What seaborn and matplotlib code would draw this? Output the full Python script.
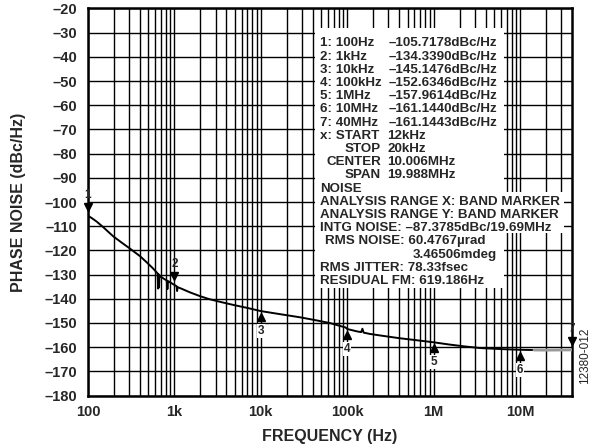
import matplotlib
matplotlib.use("Agg")
import matplotlib.pyplot as plt
import matplotlib.transforms as mtransforms
from matplotlib.patches import Rectangle
from matplotlib.ticker import FixedLocator, NullFormatter
import pandas as pd
import seaborn as sns

# Phase-noise trace (offset frequency in Hz, level in dBc/Hz)
freq_hz = [100, 110, 126, 150, 180, 196, 250, 307, 400, 480, 560, 627,
           640, 648, 656, 664, 672, 700, 760, 815, 830, 845, 900, 1000,
           1060, 1075, 1090, 1200, 1500, 1970, 2500, 3400, 4870, 7000,
           10000, 16900, 28800, 45000, 64000, 96000, 100000, 130000,
           145000, 150000, 155000, 180000, 243000, 400000, 586000,
           1000000, 1500000, 2270000, 3500000, 6000000, 10000000, 14500000]
noise_dbc = [-105.7, -106.6, -108.1, -110.4, -113.0, -114.2, -117.0, -119.3,
             -122.4, -125.0, -127.3, -129.2,
             -129.6, -135.8, -129.9, -135.3, -130.3, -130.9, -131.8, -132.4,
             -136.0, -132.7, -133.3, -134.3,
             -134.8, -136.8, -135.2, -135.8, -137.3, -138.9, -140.1, -141.3,
             -142.6, -143.8,
             -145.1, -146.4, -147.7, -149.0, -150.1, -151.9, -152.5, -153.5,
             -153.8, -152.4, -154.0, -154.5, -155.2, -156.3, -157.0,
             -158.0, -158.9, -159.7, -160.4, -160.8, -161.1, -161.2]

# Tail of the sweep beyond the integration band
tail_freq_hz = [14500000, 20000000, 30000000, 40000000]
tail_dbc = [-161.2, -161.25, -161.2, -161.14]

# Markers
marker_ids = ["1", "2", "3", "4", "5", "6", "7"]
marker_freq_hz = [100, 1e3, 1e4, 1e5, 1e6, 1e7, 4e7]
marker_freq_text = ["100Hz", "1kHz", "10kHz", "100kHz", "1MHz", "10MHz", "40MHz"]
marker_dbc = [-105.7178, -134.3390, -145.1476, -152.6346, -157.9614,
              -161.1440, -161.1443]
marker_points_down = [True, True, False, False, False, False, True]

# Axis ticks
x_ticks = [1e2, 1e3, 1e4, 1e5, 1e6, 1e7]
x_tick_labels = ["100", "1k", "10k", "100k", "1M", "10M"]
y_ticks = list(range(-180, -19, 10))
y_tick_labels = [f"–{abs(v)}" for v in y_ticks]

# Analyzer readout lines
sweep_lines = [("x: START", "12kHz"), ("STOP", "20kHz"),
               ("CENTER", "10.006MHz"), ("SPAN", "19.988MHz")]
noise_lines = ["NOISE",
               "ANALYSIS RANGE X: BAND MARKER",
               "ANALYSIS RANGE Y: BAND MARKER",
               "INTG NOISE: –87.3785dBc/19.69MHz",
               "RMS NOISE: 60.4767µrad",
               "3.46506mdeg",
               "RMS JITTER: 78.33fsec",
               "RESIDUAL FM: 619.186Hz"]

sns.set_style("white")
plt.rcParams["font.family"] = ["Liberation Sans", "DejaVu Sans"]
plt.rcParams["font.weight"] = "bold"

W, H = 595, 448
fig = plt.figure(figsize=(W / 100, H / 100), dpi=100)
L, R, T, B = 88, 572, 8.5, 395.5
ax = fig.add_axes([L / W, 1 - B / H, (R - L) / W, (B - T) / H])


def axfrac(px, py):
    return (px - L) / (R - L), (B - py) / (B - T)


trace = pd.DataFrame({"f": freq_hz, "n": noise_dbc})
tail = pd.DataFrame({"f": tail_freq_hz, "n": tail_dbc})
sns.lineplot(data=trace, x="f", y="n", ax=ax, color="black", lw=1.4,
             estimator=None, sort=False, zorder=4)
sns.lineplot(data=tail, x="f", y="n", ax=ax, color="#9a9a9a", lw=2.0,
             estimator=None, sort=False, zorder=4)

ax.set_xscale("log")
ax.set_xlim(100, 4e7)
ax.set_ylim(-180, -20)
ax.xaxis.set_major_locator(FixedLocator(x_ticks))
ax.set_xticklabels(x_tick_labels)
minor = [m * d for d in [1e2, 1e3, 1e4, 1e5, 1e6, 1e7] for m in range(2, 10)]
ax.xaxis.set_minor_locator(FixedLocator([v for v in minor if v < 4e7]))
ax.xaxis.set_minor_formatter(NullFormatter())
ax.set_yticks(y_ticks)
ax.set_yticklabels(y_tick_labels)
ax.grid(which="both", color="black", lw=1.0)
ax.tick_params(which="both", length=0, labelsize=10.5)
ax.tick_params(axis="x", pad=7)
ax.tick_params(axis="y", pad=8)
for s in ax.spines.values():
    s.set_color("black")
    s.set_linewidth(1.8)
ax.set_xlabel("")
ax.set_ylabel("")

fig.text(330 / W, 1 - 436 / H, "FREQUENCY (Hz)", ha="center", va="center",
         fontsize=11.5, fontweight="bold")
fig.text(19 / W, 1 - 202 / H, "PHASE NOISE (dBc/Hz)", ha="center",
         va="center", rotation=90, fontsize=11.5, fontweight="bold")
fig.text(585 / W, 1 - 356 / H, "12380-012", ha="center", va="center",
         rotation=90, fontsize=8.5, fontweight="normal", color="#222222")

# Markers
for mid, mf, mv, down in zip(marker_ids, marker_freq_hz, marker_dbc,
                             marker_points_down):
    if down:
        tri_off, txt_off, sym = 9, 21, "v"
    else:
        tri_off, txt_off, sym = -6, -20, "^"
    tri_tr = ax.transData + mtransforms.ScaledTranslation(0, tri_off / 100,
                                                          fig.dpi_scale_trans)
    txt_tr = ax.transData + mtransforms.ScaledTranslation(0, txt_off / 100,
                                                          fig.dpi_scale_trans)
    ax.plot([mf], [mv], marker=sym, ms=6, color="black", transform=tri_tr,
            clip_on=False, zorder=6, ls="none")
    ax.text(mf, mv, mid, transform=txt_tr, ha="center", va="center",
            fontsize=8.5, fontweight="bold", zorder=6, clip_on=False,
            bbox=None if down else dict(facecolor="white", edgecolor="none",
                                        pad=0.6))

# Readout background
for (x0, y0, x1, y1) in [(315, 28, 504, 288), (504, 192, 564, 233)]:
    ax0, ay1 = axfrac(x0, y0)
    ax1, ay0 = axfrac(x1, y1)
    ax.add_patch(Rectangle((ax0, ay0), ax1 - ax0, ay1 - ay0,
                           transform=ax.transAxes, facecolor="white",
                           edgecolor="none", zorder=5))

row0, dy, cap = 41.7, 13.2, 4.7
fs = 9.6


def put(px, row, s, ha="left"):
    xf, yf = axfrac(px, row0 + dy * row + cap)
    ax.text(xf, yf, s, transform=ax.transAxes, ha=ha, va="baseline",
            fontsize=fs, fontweight="bold", zorder=7)


row = 0
for mid, ftxt, mv in zip(marker_ids, marker_freq_text, marker_dbc):
    put(320.5, row, f"{mid}: {ftxt}")
    put(389, row, f"–{abs(mv):.4f}dBc/Hz")
    row += 1
for i, (lab, val) in enumerate(sweep_lines):
    if i == 0:
        put(320.5, row, lab)
    else:
        put(381, row, lab, ha="right")
    put(387, row, val)
    row += 1
for s in noise_lines:
    if s.startswith("RMS NOISE"):
        put(325, row, s)
    elif s == "3.46506mdeg":
        put(497, row, s, ha="right")
    else:
        put(320.5, row, s)
    row += 1

fig.savefig("out.png", dpi=100)
